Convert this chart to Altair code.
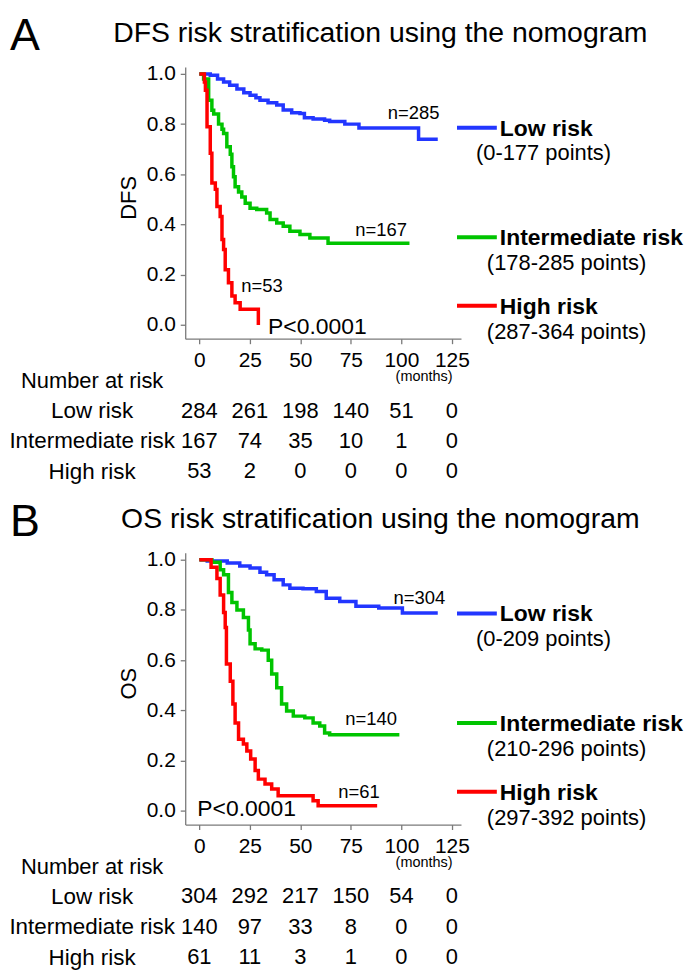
import altair as alt
import pandas as pd

FONT = "Liberation Sans, Arial, Helvetica, sans-serif"
GROUPS = ["Low risk", "Intermediate risk", "High risk"]
COLORS = ["#2236ff", "#00c400", "#ff0000"]
TIMES = [0, 25, 50, 75, 100, 125]
YTICKS = [0.0, 0.2, 0.4, 0.6, 0.8, 1.0]

# ---------------- Panel A (DFS) ----------------
A_low_t = [0, 5.4, 9, 12, 15, 18.6, 22, 25.1, 28, 30, 34, 38.3, 41.5, 45.7, 49.8, 52, 56.3, 62, 64.5, 72, 79, 108.5, 118]
A_low_s = [1.0, 0.995, 0.98, 0.968, 0.955, 0.94, 0.925, 0.915, 0.905, 0.895, 0.885, 0.876, 0.856, 0.845, 0.842, 0.825, 0.82, 0.815, 0.81, 0.80, 0.785, 0.74, 0.74]
A_int_t = [0, 2.1, 4.6, 6.2, 7.1, 9.5, 11.2, 12.0, 13.6, 15.3, 16.1, 16.9, 17.7, 19.4, 21.0, 22.7, 25.1, 28.4, 33.3, 35.0, 38.3, 41.5, 44.8, 49.8, 54.7, 63.7, 104]
A_int_s = [1.0, 0.98, 0.895, 0.855, 0.84, 0.80, 0.78, 0.763, 0.71, 0.68, 0.63, 0.59, 0.55, 0.53, 0.51, 0.485, 0.465, 0.46, 0.446, 0.42, 0.406, 0.393, 0.373, 0.36, 0.346, 0.325, 0.325]
A_high_t = [0, 2.5, 3.0, 3.8, 5.4, 6.2, 7.9, 8.7, 10.3, 11.2, 12.0, 12.8, 14.4, 16.1, 17.7, 20.2, 29.2]
A_high_s = [1.0, 0.968, 0.935, 0.79, 0.684, 0.565, 0.54, 0.472, 0.432, 0.34, 0.30, 0.22, 0.168, 0.115, 0.088, 0.062, 0.0]
A_n_text = ["n=285", "n=167", "n=53"]
A_n_month = [106, 90, 31]
A_n_surv = [0.845, 0.377, 0.155]
A_ranges = ["(0-177 points)", "(178-285 points)", "(287-364 points)"]
A_risk_low = [284, 261, 198, 140, 51, 0]
A_risk_int = [167, 74, 35, 10, 1, 0]
A_risk_high = [53, 2, 0, 0, 0, 0]

# ---------------- Panel B (OS) ----------------
B_low_t = [0, 3.9, 13.8, 20, 25.1, 30, 33.3, 37, 41.5, 44.8, 51.3, 57.9, 62.8, 69.5, 77.5, 88.8, 100.5, 118]
B_low_s = [1.0, 0.995, 0.987, 0.975, 0.967, 0.95, 0.94, 0.92, 0.90, 0.887, 0.885, 0.874, 0.847, 0.834, 0.815, 0.808, 0.788, 0.788]
B_int_t = [0, 6.2, 10.3, 12.0, 14.4, 16.1, 18.6, 21.8, 24.3, 25.1, 27.6, 30.9, 34.1, 35.8, 38.3, 40.7, 43.2, 46.5, 52.2, 56.3, 59.6, 62.0, 64.5, 99]
B_int_s = [1.0, 0.99, 0.96, 0.94, 0.87, 0.83, 0.80, 0.77, 0.72, 0.665, 0.645, 0.64, 0.60, 0.545, 0.49, 0.425, 0.397, 0.377, 0.37, 0.35, 0.338, 0.31, 0.303, 0.303]
B_high_t = [0, 5.8, 8.7, 10.3, 12.0, 12.8, 13.4, 15.3, 16.6, 17.7, 19.4, 21.8, 23.5, 25.4, 27.6, 29.2, 32.5, 35.8, 39.0, 56.3, 58.8, 88]
B_high_s = [1.0, 0.97, 0.925, 0.86, 0.79, 0.73, 0.585, 0.516, 0.425, 0.35, 0.285, 0.266, 0.238, 0.206, 0.16, 0.126, 0.107, 0.087, 0.06, 0.04, 0.02, 0.02]
B_n_text = ["n=304", "n=140", "n=61"]
B_n_month = [108.9, 85, 79]
B_n_surv = [0.849, 0.364, 0.073]
B_ranges = ["(0-209 points)", "(210-296 points)", "(297-392 points)"]
B_risk_low = [304, 292, 217, 150, 54, 0]
B_risk_int = [140, 97, 33, 8, 0, 0]
B_risk_high = [61, 11, 3, 1, 0, 0]

XDOM = [-7, 129.5]
YDOM = [-0.055, 1.028]
W, H = 277, 273
ROW_STEP = 30.5
TABLE_H = 101
AXIS_GREY = "#7a7a7a"


def one(txt):
    return pd.DataFrame({"t": [txt]})


def plot_panel(letter, title, ylabel, curves_t, curves_s, n_text, n_month, n_surv,
               p_month, p_surv, ranges):
    rows = []
    for g, tt, ss in zip(GROUPS, curves_t, curves_s):
        for t, s in zip(tt, ss):
            rows.append({"group": g, "month": t, "surv": s})
    df = pd.DataFrame(rows)

    xs = alt.Scale(domain=XDOM, nice=False, zero=False)
    ys = alt.Scale(domain=YDOM, nice=False, zero=False)
    color = alt.Color("group:N", scale=alt.Scale(domain=GROUPS, range=COLORS), legend=None)

    xaxis = alt.Axis(values=TIMES, title="(months)", labelFontSize=21, labelPadding=6,
                     tickSize=5, labelFlush=False, labelOverlap=False,
                     titleFontSize=14.5, titleFontWeight="normal", titleX=268,
                     titleY=38, titleAlign="right", titleBaseline="middle")
    yaxis = alt.Axis(values=YTICKS, format=".1f", title=ylabel, labelFontSize=21,
                     labelPadding=5, tickSize=5, labelOverlap=False, labelFlush=False,
                     titleFontSize=22, titleFontWeight="normal", titleX=-57, titleY=131,
                     titleAngle=270, titleAlign="center", titleBaseline="middle")

    lines = alt.Chart(df).mark_line(interpolate="step-after", strokeWidth=3.5).encode(
        x=alt.X("month:Q", scale=xs, axis=xaxis),
        y=alt.Y("surv:Q", scale=ys, axis=yaxis),
        color=color,
        order=alt.Order("month:Q"),
    )

    ndf = pd.DataFrame({"t": n_text, "month": n_month, "surv": n_surv})
    nlab = alt.Chart(ndf).mark_text(fontSize=18.5, font=FONT, color="black",
                                    align="center", baseline="middle").encode(
        x=alt.X("month:Q", scale=xs), y=alt.Y("surv:Q", scale=ys), text="t:N")

    pdf = pd.DataFrame({"t": ["P<0.0001"], "month": [p_month], "surv": [p_surv]})
    ptxt = alt.Chart(pdf).mark_text(fontSize=23, font=FONT, color="black",
                                    align="left", baseline="middle").encode(
        x=alt.X("month:Q", scale=xs), y=alt.Y("surv:Q", scale=ys), text="t:N")

    layers = [lines, nlab, ptxt]

    # panel letter and title
    layers.append(alt.Chart(one(letter)).mark_text(fontSize=45, font=FONT, color="black",
                                                   align="left", baseline="alphabetic").encode(
        x=alt.value(-176), y=alt.value(-17), text="t:N"))
    layers.append(alt.Chart(one(title)).mark_text(fontSize=28.5, font=FONT, color="black",
                                                  align="center", baseline="alphabetic").encode(
        x=alt.value(196), y=alt.value(-25), text="t:N"))

    # custom legend on the right
    leg_y = [61, 171, 240]
    sub_x = [292, 303, 303]
    for g, c, r, ly, sx in zip(GROUPS, COLORS, ranges, leg_y, sub_x):
        layers.append(alt.Chart(one(g)).mark_rule(color=c, strokeWidth=4).encode(
            x=alt.value(273), x2=alt.value(313), y=alt.value(ly)))
        layers.append(alt.Chart(one(g)).mark_text(fontSize=23, font=FONT, fontWeight="bold",
                                                  color="black", align="left", baseline="middle").encode(
            x=alt.value(316), y=alt.value(ly + 1), text="t:N"))
        layers.append(alt.Chart(one(r)).mark_text(fontSize=22, font=FONT, color="black",
                                                  align="left", baseline="middle").encode(
            x=alt.value(sx), y=alt.value(ly + 26), text="t:N"))

    return alt.layer(*layers).properties(width=W, height=H)


LABEL_EXPR = "[" + ",".join("'" + g + "'" for g in GROUPS) + "][datum.value]"


def table_panel(risk):
    rrows = []
    for i, counts in enumerate(risk):
        for t, n in zip(TIMES, counts):
            rrows.append({"row": i, "month": t, "n": n})
    rdf = pd.DataFrame(rrows)
    return alt.Chart(rdf).mark_text(fontSize=22, font=FONT, color="black",
                                    baseline="middle").encode(
        x=alt.X("month:Q", scale=alt.Scale(domain=XDOM, nice=False, zero=False), axis=None),
        y=alt.Y("row:Q",
                scale=alt.Scale(domain=[-0.5, TABLE_H / ROW_STEP - 0.5], reverse=True,
                                nice=False, zero=False),
                axis=alt.Axis(values=[0, 1, 2], labelExpr=LABEL_EXPR,
                              title="Number at risk", titleAngle=0, titleAlign="center",
                              titleBaseline="middle", titleX=-94, titleY=-15,
                              titleFontSize=22, titleFontWeight="normal",
                              labelFontSize=22.5, labelAlign="center", labelBaseline="middle",
                              labelPadding=94, ticks=False, tickSize=0, domain=False,
                              labelLimit=0, labelOverlap=False, labelFlush=False)),
        text="n:Q",
    ).properties(width=W, height=TABLE_H)


plotA = plot_panel("A", "DFS risk stratification using the nomogram", "DFS",
                   [A_low_t, A_int_t, A_high_t], [A_low_s, A_int_s, A_high_s],
                   A_n_text, A_n_month, A_n_surv, 34, -0.007, A_ranges)
tableA = table_panel([A_risk_low, A_risk_int, A_risk_high])
plotB = plot_panel("B", "OS risk stratification using the nomogram", "OS",
                   [B_low_t, B_int_t, B_high_t], [B_low_s, B_int_s, B_high_s],
                   B_n_text, B_n_month, B_n_surv, -1, 0.007, B_ranges)
tableB = table_panel([B_risk_low, B_risk_int, B_risk_high])

chart = alt.vconcat(plotA, tableA, plotB, tableB, spacing=57, bounds="flush").resolve_scale(
    x="independent", y="independent", color="independent"
).properties(
    padding={"top": 4, "left": 0, "right": 0, "bottom": 0}, background="white"
).configure_view(stroke=None).configure_axis(
    grid=False, domainColor=AXIS_GREY, tickColor=AXIS_GREY, domainWidth=1.3, tickWidth=1.3,
    labelColor="black", titleColor="black", labelFont=FONT, titleFont=FONT
).configure_text(font=FONT)

chart.save("out.html", embed_options={"renderer": "svg", "actions": False})
